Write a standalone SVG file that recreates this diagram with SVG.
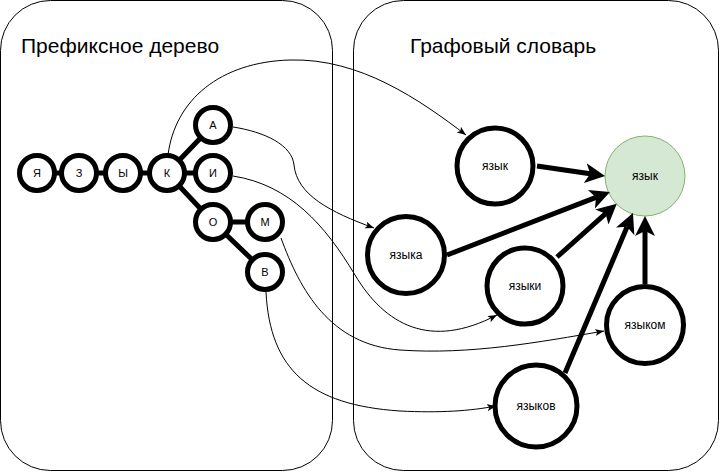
<svg xmlns="http://www.w3.org/2000/svg" width="720" height="474" viewBox="0 0 720 474">
<style>
.cont{fill:#fff;stroke:#000;stroke-width:1}
.title{font-family:"Liberation Sans",Arial,sans-serif;font-size:21px;fill:#000}
.tn{fill:#fff;stroke:#000;stroke-width:5}
.tl{font-family:"Liberation Sans",Arial,sans-serif;font-size:11px;fill:#000;text-anchor:middle;dominant-baseline:central}
.gn{fill:#fff;stroke:#000;stroke-width:5}
.gl{font-family:"Liberation Sans",Arial,sans-serif;font-size:12px;fill:#000;text-anchor:middle;dominant-baseline:central}
.tedge{stroke:#000;stroke-width:5;fill:none}
.thick{stroke:#000;stroke-width:5;fill:none;marker-end:url(#big)}
.thin{stroke:#000;stroke-width:1;fill:none;marker-end:url(#small)}
</style>
<defs>
<marker id="big" markerUnits="userSpaceOnUse" markerWidth="22" markerHeight="22" viewBox="0 0 22 22" refX="5" refY="10" orient="auto">
<path d="M0,0 L20,10 L0,20 L5,10 Z" fill="#000"/>
</marker>
<marker id="small" markerUnits="userSpaceOnUse" markerWidth="10" markerHeight="8" viewBox="0 0 10 8" refX="9" refY="3.5" orient="auto">
<path d="M0,0 L9,3.5 L0,7 L2.2,3.5 Z" fill="#000"/>
</marker>
</defs>
<g id="prefix-tree-container">
<rect class="cont" x="0.5" y="0.5" width="332" height="470" rx="50" ry="50"/>
<text class="title" x="21" y="53">Префиксное дерево</text>
</g>
<g id="graph-dict-container">
<rect class="cont" x="353.5" y="0.5" width="365" height="470" rx="50" ry="50"/>
<text class="title" x="410" y="53">Графовый словарь</text>
</g>
<g id="tree-edges">
<line class="tedge" x1="37" y1="173" x2="213" y2="173"/>
<line class="tedge" x1="167" y1="173" x2="213" y2="125"/>
<line class="tedge" x1="167" y1="173" x2="213" y2="222"/>
<line class="tedge" x1="213" y1="222" x2="265" y2="222"/>
<line class="tedge" x1="213" y1="222" x2="265" y2="272"/>
</g>
<g id="t-ya"><circle class="tn" cx="37" cy="173" r="17.5"/><text class="tl" x="37" y="173">Я</text></g>
<g id="t-z"><circle class="tn" cx="79" cy="173" r="17.5"/><text class="tl" x="79" y="173">З</text></g>
<g id="t-y"><circle class="tn" cx="123" cy="173" r="17.5"/><text class="tl" x="123" y="173">Ы</text></g>
<g id="t-k"><circle class="tn" cx="167" cy="173" r="17.5"/><text class="tl" x="167" y="173">К</text></g>
<g id="t-a"><circle class="tn" cx="213" cy="125" r="17.5"/><text class="tl" x="213" y="125">А</text></g>
<g id="t-i"><circle class="tn" cx="213" cy="173" r="17.5"/><text class="tl" x="213" y="173">И</text></g>
<g id="t-o"><circle class="tn" cx="213" cy="222" r="17.5"/><text class="tl" x="213" y="222">О</text></g>
<g id="t-m"><circle class="tn" cx="265" cy="222" r="17.5"/><text class="tl" x="265" y="222">М</text></g>
<g id="t-v"><circle class="tn" cx="265" cy="272" r="17.5"/><text class="tl" x="265" y="272">В</text></g>
<g id="g-root"><circle cx="645" cy="176" r="40" fill="#d5e8d4" stroke="#82b366" stroke-width="1"/><text class="gl" x="645" y="176">язык</text></g>
<g id="g-yazyk"><circle class="gn" cx="495" cy="166" r="38"/><text class="gl" x="495" y="166">язык</text></g>
<g id="g-yazyka"><circle class="gn" cx="406" cy="255" r="38.5"/><text class="gl" x="406" y="255">языка</text></g>
<g id="g-yazyki"><circle class="gn" cx="525" cy="286" r="38"/><text class="gl" x="525" y="286">языки</text></g>
<g id="g-yazykom"><circle class="gn" cx="645" cy="325" r="38.5"/><text class="gl" x="645" y="325">языком</text></g>
<g id="g-yazykov"><circle class="gn" cx="536" cy="406" r="41"/><text class="gl" x="536" y="406">языков</text></g>
<g id="connectors">
<line class="thick" x1="537" y1="166" x2="590.2" y2="173.8"/>
<line class="thick" x1="447" y1="255" x2="596.0" y2="197.4"/>
<line class="thick" x1="557" y1="257" x2="605.6" y2="213.7"/>
<line class="thick" x1="565" y1="373" x2="627.1" y2="226.8"/>
<line class="thick" x1="645" y1="284" x2="645" y2="231"/>
<path class="thin" d="M168,155 C175,100 220,62 290,60 C360,58 420,100 466,135"/>
<path class="thin" d="M233,127 C265,132 292,145 294,165 C297,195 330,212 374,228"/>
<path class="thin" d="M233,176 C290,185 325,225 355,275 C385,325 430,350 497,315"/>
<path class="thin" d="M281,238 C300,290 330,345 400,350 C470,355 540,342 604,331"/>
<path class="thin" d="M266,292 C270,370 310,405 400,411 C440,413 470,411 496,406"/>
</g>
</svg>
